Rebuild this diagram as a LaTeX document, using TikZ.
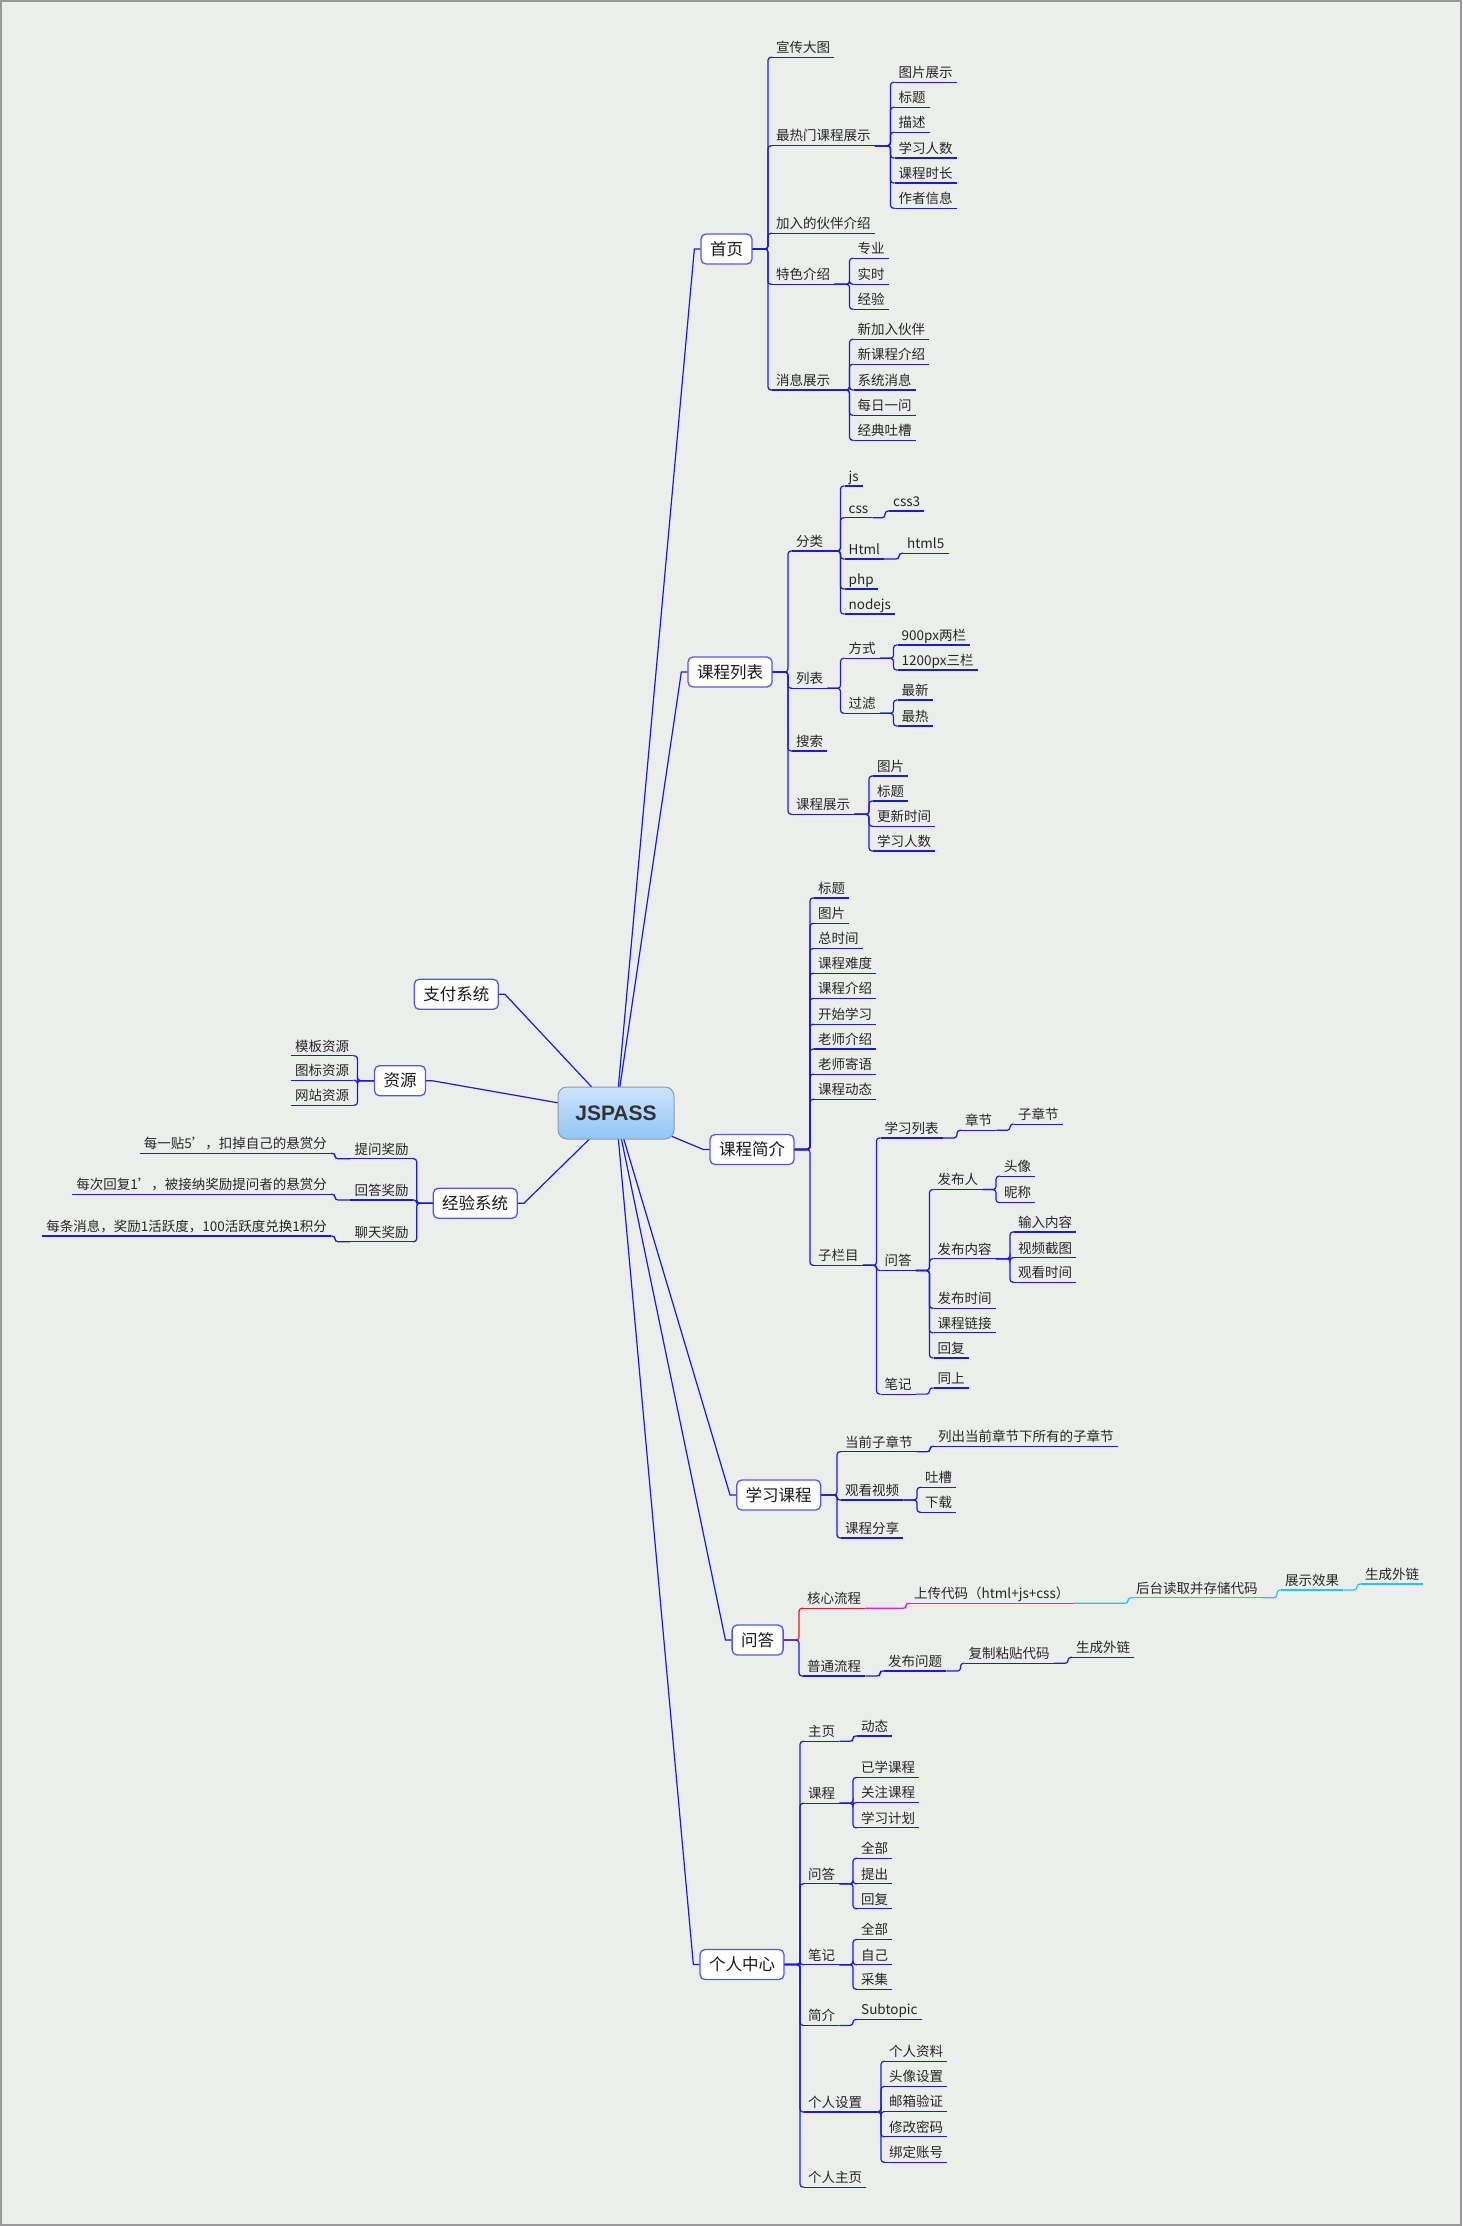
\documentclass[tikz,border=0pt]{standalone}
\usepackage{fontspec}
\setmainfont{Noto Sans CJK SC}
\newfontfamily\rootfont{Liberation Sans}
\usetikzlibrary{positioning}

\definecolor{bgcol}{HTML}{EBEEEB}
\definecolor{linkblue}{RGB}{25,25,235}
\definecolor{boxblue}{RGB}{85,85,245}
\definecolor{roottop}{HTML}{CCE4FB}
\definecolor{rootbot}{HTML}{92C5F6}
\definecolor{rootline}{HTML}{8E9BA6}
\definecolor{corered}{RGB}{240,20,20}
\definecolor{coremag}{RGB}{225,30,225}
\definecolor{corecyan}{RGB}{30,200,240}

% elbow from a parent to a child (right side / left side)
\newcommand\fork[3][linkblue]{\draw[branch, draw=#1] (#2) -| ([xshift=-4pt]#3.south west) -- (#3.south west);}
\newcommand\forkl[3][linkblue]{\draw[branch, draw=#1] (#2) -| ([xshift=4pt]#3.south east) -- (#3.south east);}

\tikzset{
  branch/.style={draw=linkblue, line width=1.2pt, rounded corners=3pt},
  trunk/.style={draw=linkblue, line width=1.2pt},
  leaf/.style={anchor=south west, inner xsep=4pt, inner ysep=1.5pt, text height=10pt, text depth=3pt,
    text=black!85, font=\fontsize{13.5}{16}\selectfont,
    append after command={(\tikzlastnode.south west) edge[branch, draw=#1] (\tikzlastnode.south east)}},
  leaf/.default=linkblue,
  leafl/.style={leaf=#1, anchor=south east},
  leafl/.default=linkblue,
  topic/.style={draw=boxblue, line width=1.3pt, fill=white, rounded corners=5pt, inner xsep=9pt,
    minimum height=30pt, font=\fontsize{16.5}{20}\selectfont, text=black!90},
  rootbox/.style={draw=rootline, line width=1pt, top color=roottop, bottom color=rootbot, rounded corners=9pt,
    minimum width=116pt, minimum height=52pt, text=black!80, font=\rootfont\bfseries\fontsize{21}{25}\selectfont},
}

\begin{document}
\begin{tikzpicture}[x=1pt, y=-1pt]
  \useasboundingbox (0,0) rectangle (1462,2226);
  \fill[bgcol] (0,0) rectangle (1462,2226);
  \draw[gray!80, line width=2pt] (1,1) rectangle (1461,2225);

  % 首页
  \node[topic] (home) at (726.5,249) {首页};
  \foreach \n/\txt/\y in {h1/宣传大图/57.3, h2/最热门课程展示/145.7, h3/加入的伙伴介绍/233.3, h4/特色介绍/284.3, h5/消息展示/390}{
    \node[leaf] (\n) at (772,\y) {\txt};
    \fork{home.east}{\n}
  }
  \foreach \n/\txt/\y in {h21/图片展示/82.3, h22/标题/107.3, h23/描述/132.3, h24/学习人数/158, h25/课程时长/183, h26/作者信息/208.3}{
    \node[leaf] (\n) at (894.5,\y) {\txt};
    \fork{h2.south east}{\n}
  }
  \foreach \n/\txt/\y in {h41/专业/258.3, h42/实时/284.3, h43/经验/309.3}{
    \node[leaf] (\n) at (853.5,\y) {\txt};
    \fork{h4.south east}{\n}
  }
  \foreach \n/\txt/\y in {h51/新加入伙伴/339.3, h52/新课程介绍/364.3, h53/系统消息/390, h54/每日一问/415.3, h55/经典吐槽/440.3}{
    \node[leaf] (\n) at (853.5,\y) {\txt};
    \fork{h5.south east}{\n}
  }

  % 课程列表
  \node[topic] (list) at (730,672) {课程列表};
  \foreach \n/\txt/\y in {l1/分类/551, l2/列表/688.3, l3/搜索/751, l4/课程展示/814.3}{
    \node[leaf] (\n) at (792,\y) {\txt};
    \fork{list.east}{\n}
  }
  \foreach \n/\txt/\y in {l11/js/486, l12/css/517.7, l13/Html/559, l14/php/589, l15/nodejs/614}{
    \node[leaf] (\n) at (844.5,\y) {\txt};
    \fork{l1.south east}{\n}
  }
  \node[leaf] (l121) at (889,511) {css3};
  \fork{l12.south east}{l121}
  \node[leaf] (l131) at (903,553.3) {html5};
  \fork{l13.south east}{l131}
  \foreach \n/\txt/\y in {l21/方式/658.3, l22/过滤/713.3}{
    \node[leaf] (\n) at (844.5,\y) {\txt};
    \fork{l2.south east}{\n}
  }
  \foreach \n/\txt/\y in {l211/900px两栏/645, l212/1200px三栏/670}{
    \node[leaf] (\n) at (897.5,\y) {\txt};
    \fork{l21.south east}{\n}
  }
  \foreach \n/\txt/\y in {l221/最新/700, l222/最热/726}{
    \node[leaf] (\n) at (897.5,\y) {\txt};
    \fork{l22.south east}{\n}
  }
  \foreach \n/\txt/\y in {l41/图片/776, l42/标题/801, l43/更新时间/826.3, l44/学习人数/851}{
    \node[leaf] (\n) at (873,\y) {\txt};
    \fork{l4.south east}{\n}
  }

  % 课程简介
  \node[topic] (intro) at (752,1149.5) {课程简介};
  \foreach \n/\txt/\y in {i1/标题/897.9, i2/图片/923.4, i3/总时间/948.5, i4/课程难度/973.3, i5/课程介绍/998.4,
      i6/开始学习/1024.3, i7/老师介绍/1049, i8/老师寄语/1074.2, i9/课程动态/1099.3, sub/子栏目/1265.3}{
    \node[leaf] (\n) at (814,\y) {\txt};
    \fork{intro.east}{\n}
  }
  \foreach \n/\txt/\y in {sa/学习列表/1137.9, sb/问答/1270.5, sc/笔记/1394.1}{
    \node[leaf] (\n) at (880.5,\y) {\txt};
    \fork{sub.south east}{\n}
  }
  \node[leaf] (sa1) at (961,1130.3) {章节};
  \fork{sa.south east}{sa1}
  \node[leaf] (sa2) at (1014,1124.1) {子章节};
  \fork{sa1.south east}{sa2}
  \foreach \n/\txt/\y in {sb1/发布人/1189.5, sb2/发布内容/1258.8, sb3/发布时间/1308.3, sb4/课程链接/1332.8, sb5/回复/1357.9}{
    \node[leaf] (\n) at (933.5,\y) {\txt};
    \fork{sb.south east}{\n}
  }
  \foreach \n/\txt/\y in {sb11/头像/1176.1, sb12/昵称/1202.6}{
    \node[leaf] (\n) at (1000,\y) {\txt};
    \fork{sb1.south east}{\n}
  }
  \foreach \n/\txt/\y in {sb21/输入内容/1231.9, sb22/视频截图/1257.7, sb23/观看时间/1282.2}{
    \node[leaf] (\n) at (1014,\y) {\txt};
    \fork{sb2.south east}{\n}
  }
  \node[leaf] (sc1) at (933.5,1387.9) {同上};
  \fork{sc.south east}{sc1}

  % 学习课程
  \node[topic] (study) at (778.7,1495) {学习课程};
  \foreach \n/\txt/\y in {s1/当前子章节/1451.7, s2/观看视频/1500, s3/课程分享/1538}{
    \node[leaf] (\n) at (841,\y) {\txt};
    \fork{study.east}{\n}
  }
  \node[leaf] (s11) at (934,1446.3) {列出当前章节下所有的子章节};
  \fork{s1.south east}{s11}
  \foreach \n/\txt/\y in {s21/吐槽/1487.3, s22/下载/1512.3}{
    \node[leaf] (\n) at (921,\y) {\txt};
    \fork{s2.south east}{\n}
  }

  % 问答
  \node[topic] (qa) at (757.6,1640) {问答};
  \node[leaf=corered] (q1) at (803,1608.3) {核心流程};
  \fork[corered]{qa.east}{q1}
  \node[leaf] (q2) at (803,1676) {普通流程};
  \fork{qa.east}{q2}
  \node[leaf=coremag] (q11) at (910,1603.3) {上传代码（html+js+css）};
  \fork[coremag]{q1.south east}{q11}
  \node[leaf=corecyan] (q12) at (1132,1597.7) {后台读取并存储代码};
  \fork[corecyan]{q11.south east}{q12}
  \node[leaf=corecyan] (q13) at (1281,1590) {展示效果};
  \fork[corecyan]{q12.south east}{q13}
  \node[leaf=corecyan] (q14) at (1361,1584) {生成外链};
  \fork[corecyan]{q13.south east}{q14}
  \node[leaf] (q21) at (884,1671) {发布问题};
  \fork{q2.south east}{q21}
  \node[leaf] (q22) at (964.5,1663.3) {复制粘贴代码};
  \fork{q21.south east}{q22}
  \node[leaf] (q23) at (1072,1657.3) {生成外链};
  \fork{q22.south east}{q23}

  % 个人中心
  \node[topic] (me) at (742,1964.5) {个人中心};
  \foreach \n/\txt/\y in {m1/主页/1741.3, m2/课程/1803.3, m3/问答/1883.8, m4/笔记/1964.7, m5/简介/2025.4, m6/个人设置/2112, m7/个人主页/2187.1}{
    \node[leaf] (\n) at (804,\y) {\txt};
    \fork{me.east}{\n}
  }
  \node[leaf] (m11) at (857,1735.9) {动态};
  \fork{m1.south east}{m11}
  \foreach \n/\txt/\y in {m21/已学课程/1777.5, m22/关注课程/1802.6, m23/学习计划/1827.8}{
    \node[leaf] (\n) at (857,\y) {\txt};
    \fork{m2.south east}{\n}
  }
  \foreach \n/\txt/\y in {m31/全部/1858.3, m32/提出/1883.8, m33/回复/1908.7}{
    \node[leaf] (\n) at (857,\y) {\txt};
    \fork{m3.south east}{\n}
  }
  \foreach \n/\txt/\y in {m41/全部/1939.5, m42/自己/1964.7, m43/采集/1989.2}{
    \node[leaf] (\n) at (857,\y) {\txt};
    \fork{m4.south east}{\n}
  }
  \node[leaf] (m51) at (857,2019.4) {Subtopic};
  \fork{m5.south east}{m51}
  \foreach \n/\txt/\y in {m61/个人资料/2061.3, m62/头像设置/2086.5, m63/邮箱验证/2111.6, m64/修改密码/2136.8, m65/绑定账号/2162.3}{
    \node[leaf] (\n) at (885,\y) {\txt};
    \fork{m6.south east}{\n}
  }

  % 左侧
  \node[topic] (pay) at (456.3,994.3) {支付系统};
  \node[topic] (res) at (400,1080.7) {资源};
  \foreach \n/\txt/\y in {r1/模板资源/1055.7, r2/图标资源/1080.3, r3/网站资源/1105.3}{
    \node[leafl] (\n) at (353.4,\y) {\txt};
    \forkl{res.west}{\n}
  }
  \node[topic] (exp) at (475.2,1203.3) {经验系统};
  \foreach \n/\txt/\y in {e1/提问奖励/1158.7, e2/回答奖励/1200, e3/聊天奖励/1241.7}{
    \node[leafl] (\n) at (412.7,\y) {\txt};
    \forkl{exp.west}{\n}
  }
  \node[leafl] (e11) at (331,1153.3) {每一贴5'，扣掉自己的悬赏分};
  \forkl{e1.south west}{e11}
  \node[leafl] (e21) at (331,1194.3) {每次回复1'，被接纳奖励提问者的悬赏分};
  \forkl{e2.south west}{e21}
  \node[leafl] (e31) at (331,1236) {每条消息，奖励1活跃度，100活跃度兑换1积分};
  \forkl{e3.south west}{e31}

  % 中心
  \coordinate (c) at (616,1113);
  \foreach \b in {home, list, intro, study, qa, me}
    \draw[trunk] (c) -- ([xshift=-6pt]\b.west) -- (\b.west);
  \foreach \b in {pay, res, exp}
    \draw[trunk] (c) -- ([xshift=6pt]\b.east) -- (\b.east);
  \node[rootbox] (root) at (c) {JSPASS};
\end{tikzpicture}
\end{document}
